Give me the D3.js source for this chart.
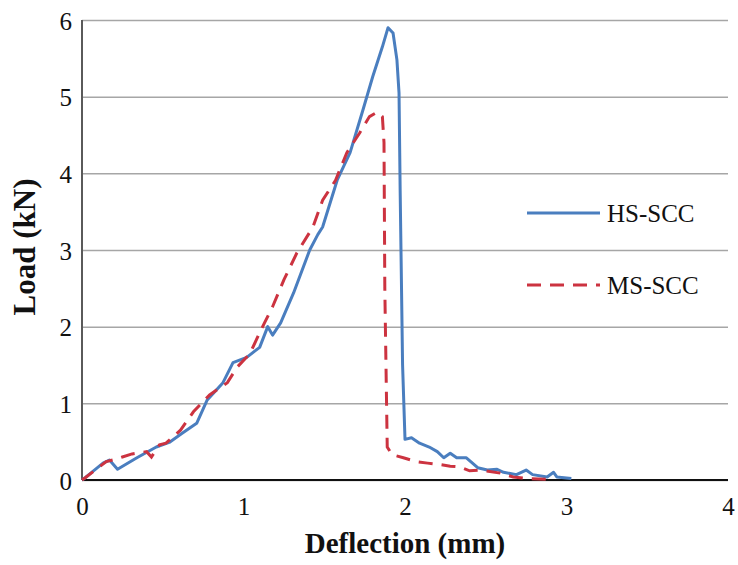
<!DOCTYPE html>
<html lang="en">
<head>
    <meta charset="UTF-8">
    <script src="https://d3js.org/d3.v7.min.js"></script>
    <title>Load-deflection</title>
    <style>
        body {
            margin: 0;
            padding: 0;
            background-color: #fff;
        }

        .grid line {
            stroke: #a6a6a6;
            stroke-width: 1.5;
        }
    </style>
</head>

<body>
    <div id="chart"></div>

    <script>
        // tick values
        let xTicks = [0, 1, 2, 3, 4]
        let yTicks = [0, 1, 2, 3, 4, 5, 6]

        // HS-SCC curve (deflection mm, load kN)
        let hsX = [0, 0.02, 0.13, 0.17, 0.22, 0.34, 0.46, 0.54, 0.62, 0.71, 0.774, 0.873, 0.935, 1.02, 1.10, 1.15, 1.18, 1.23, 1.31, 1.41, 1.46, 1.49, 1.58, 1.66, 1.74, 1.80, 1.86, 1.895, 1.926, 1.95, 1.963, 1.97, 1.985, 2.0, 2.04, 2.09, 2.15, 2.20, 2.24, 2.28, 2.32, 2.38, 2.45, 2.51, 2.57, 2.61, 2.69, 2.75, 2.79, 2.88, 2.92, 2.94, 3.03]
        let hsY = [0, 0.03, 0.22, 0.26, 0.14, 0.29, 0.43, 0.49, 0.61, 0.74, 1.04, 1.27, 1.53, 1.60, 1.73, 2.00, 1.89, 2.05, 2.44, 3.00, 3.20, 3.30, 3.91, 4.27, 4.83, 5.26, 5.65, 5.90, 5.83, 5.48, 5.05, 3.78, 1.5, 0.53, 0.55, 0.48, 0.43, 0.37, 0.29, 0.35, 0.29, 0.29, 0.16, 0.13, 0.14, 0.10, 0.07, 0.13, 0.07, 0.04, 0.10, 0.04, 0.02]

        // MS-SCC curve
        let msX = [0, 0.02, 0.15, 0.19, 0.25, 0.31, 0.40, 0.43, 0.48, 0.52, 0.61, 0.69, 0.79, 0.90, 0.96, 1.04, 1.10, 1.13, 1.18, 1.25, 1.33, 1.43, 1.49, 1.57, 1.64, 1.72, 1.78, 1.83, 1.86, 1.87, 1.875, 1.89, 1.92, 1.99, 2.07, 2.14, 2.22, 2.28, 2.34, 2.40, 2.46, 2.59, 2.67, 2.75, 2.88]
        let msY = [0, 0.03, 0.24, 0.26, 0.30, 0.34, 0.37, 0.30, 0.46, 0.48, 0.65, 0.89, 1.11, 1.27, 1.47, 1.65, 1.92, 2.05, 2.26, 2.61, 2.96, 3.30, 3.65, 3.91, 4.27, 4.53, 4.74, 4.80, 4.74, 4.40, 2.5, 0.43, 0.33, 0.29, 0.24, 0.22, 0.20, 0.18, 0.17, 0.12, 0.13, 0.09, 0.04, 0.02, 0.01]

        let seriesNames = ["HS-SCC", "MS-SCC"]

        let serif = "Liberation Serif"

        let cfg = {
            width: 738,
            height: 565,
            left: 82,
            right: 10,
            top: 20,
            bottom: 85
        }

        let svg = d3.select("#chart").append("svg")
            .attr("width", cfg.width)
            .attr("height", cfg.height)

        let xscal = d3.scaleLinear().domain([0, 4])
            .range([cfg.left, cfg.width - cfg.right])
        let yscal = d3.scaleLinear().domain([0, 6])
            .range([cfg.height - cfg.bottom, cfg.top])

        // horizontal gridlines + y tick labels
        let yaxi = d3.axisLeft(yscal).tickValues(yTicks).tickFormat(d => d)
            .tickSize(-(xscal(4) - xscal(0))).tickPadding(10)
        let gy = svg.append("g").attr("class", "grid")
            .attr("transform", "translate(" + cfg.left + ",0)").call(yaxi)
        gy.select(".domain").remove()
        gy.selectAll(".tick text").attr("dy", "0.36em")

        let xaxi = d3.axisBottom(xscal).tickValues(xTicks).tickFormat(d => d)
            .tickSize(0).tickPadding(17)
        let gx = svg.append("g").attr("class", "grid")
            .attr("transform", "translate(0," + yscal(0) + ")").call(xaxi)
        gx.select(".domain").remove()

        gy.attr("font-family", serif).attr("font-size", 25)
        gx.attr("font-family", serif).attr("font-size", 25)
        svg.selectAll(".tick text").attr("fill", "#111")

        // axis lines
        svg.append("line")
            .attr("x1", xscal(0)).attr("x2", xscal(0))
            .attr("y1", yscal(6)).attr("y2", yscal(0))
            .attr("stroke", "#5a5a5a").attr("stroke-width", 2)
        svg.append("line")
            .attr("x1", xscal(0)).attr("x2", xscal(4))
            .attr("y1", yscal(0)).attr("y2", yscal(0))
            .attr("stroke", "#111").attr("stroke-width", 2)

        let line = d3.line().x(d => xscal(d[0])).y(d => yscal(d[1]))

        svg.append("path")
            .datum(d3.zip(hsX, hsY))
            .attr("d", line)
            .attr("fill", "none")
            .attr("stroke", "#4a7ebf")
            .attr("stroke-width", 3)
            .attr("stroke-linejoin", "round")

        svg.append("path")
            .datum(d3.zip(msX, msY))
            .attr("d", line)
            .attr("fill", "none")
            .attr("stroke", "#cc3340")
            .attr("stroke-width", 3)
            .attr("stroke-dasharray", "14,9")

        // legend
        let lg = [
            { name: seriesNames[0], y: 213, color: "#4a7ebf", dash: null },
            { name: seriesNames[1], y: 285, color: "#cc3340", dash: "14,9" }
        ]
        lg.forEach(function (d) {
            svg.append("line")
                .attr("x1", 527).attr("x2", 600)
                .attr("y1", d.y).attr("y2", d.y)
                .attr("stroke", d.color).attr("stroke-width", 3)
                .attr("stroke-dasharray", d.dash)
            svg.append("text")
                .attr("x", 607).attr("y", d.y + 9)
                .attr("font-family", serif)
                .attr("font-size", 25)
                .attr("fill", "#111")
                .text(d.name)
        })

        // axis titles
        svg.append("text")
            .attr("x", xscal(2)).attr("y", 553)
            .attr("text-anchor", "middle")
            .attr("font-family", serif)
            .attr("font-size", 29).attr("font-weight", "bold")
            .attr("fill", "#111")
            .text("Deflection (mm)")

        svg.append("text")
            .attr("transform", "translate(35,247) rotate(-90)")
            .attr("text-anchor", "middle")
            .attr("font-family", serif)
            .attr("font-size", 31).attr("font-weight", "bold")
            .attr("fill", "#111")
            .text("Load (kN)")
    </script>
</body>

</html>
